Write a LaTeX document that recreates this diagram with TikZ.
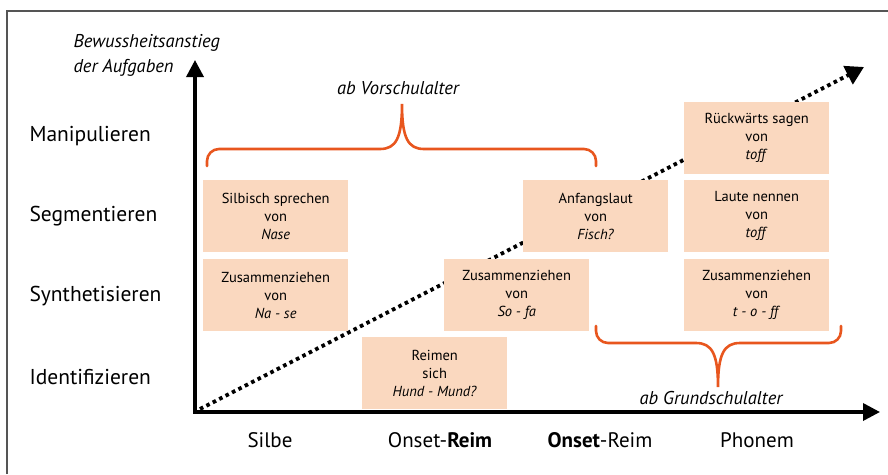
\documentclass[tikz,border=0pt]{standalone}
\usepackage{fontspec}
\setmainfont{PT Sans}
\usetikzlibrary{arrows.meta}
\definecolor{boxfill}{HTML}{FAD8BF}
\definecolor{brace}{HTML}{E8561E}
\definecolor{frame}{HTML}{555555}
\tikzset{
  box/.style={fill=boxfill, minimum width=145pt, minimum height=72pt, inner sep=0pt, align=center, font=\fontsize{14.5}{18}\selectfont, anchor=north west},
  rowlab/.style={anchor=west, font=\fontsize{21.5}{24}\selectfont},
  collab/.style={font=\fontsize{21}{24}\selectfont},
  bracelab/.style={font=\fontsize{18.5}{20}\selectfont\itshape},
  axis/.style={line width=3.5pt, {Triangle[length=17pt,width=17pt]}-{Triangle[length=17pt,width=17pt]}},
  bracepath/.style={draw=brace, line width=2.6pt, line cap=round},
}
\begin{document}
\begin{tikzpicture}[x=1pt,y=-1pt]
\useasboundingbox (0,0) rectangle (888,474);
% frame
\coordinate (fa) at (7,474);
\coordinate (fb) at (7,11);
\coordinate (fc) at (888,11);
\draw[frame, line width=1.5pt] (fa) -- (fb) -- (fc);
% dotted diagonal
\coordinate (d0) at (200,409);
\coordinate (d1) at (864,67);
\draw[line width=3.8pt, dash pattern=on 3.6pt off 3.6pt, -{Triangle[length=18pt,width=20pt]}] (d0) -- (d1);
% boxes
\node[box] (b1) at (203,180) {Silbisch sprechen\\von\\\textit{Nase}};
\node[box] (b2) at (203,259) {Zusammenziehen\\von\\\textit{Na - se}};
\node[box] (b3) at (362,337) {Reimen\\sich\\\textit{Hund - Mund?}};
\node[box] (b4) at (444,259) {Zusammenziehen\\von\\\textit{So - fa}};
\node[box] (b5) at (523,180) {Anfangslaut\\von\\\textit{Fisch?}};
\node[box] (b6) at (684,102) {Rückwärts sagen\\von\\\textit{toff}};
\node[box] (b7) at (684,180) {Laute nennen\\von\\\textit{toff}};
\node[box] (b8) at (684,259) {Zusammenziehen\\von\\\textit{t - o - ff}};
% axes
\coordinate (ytop) at (195,60);
\coordinate (corner) at (195,412);
\coordinate (xend) at (880,412);
\draw[axis] (ytop) -- (corner) -- (xend);
% braces
\coordinate (t0) at (207,166);
\coordinate (t1) at (596,166);
\coordinate (tm) at (402,104);
\draw[bracepath] (t0) -- (207,161) to[out=90,in=180] (219,149) -- (380,149)
  .. controls (396,149) and (402,138) .. (tm)
  .. controls (402,138) and (408,149) .. (424,149) -- (584,149) to[out=0,in=90] (596,161) -- (t1);
\coordinate (g0) at (596,326);
\coordinate (g1) at (841,326);
\coordinate (gm) at (718,387);
\draw[bracepath] (g0) -- (596,331) to[out=-90,in=180] (608,343) -- (696,343)
  .. controls (712,343) and (718,354) .. (gm)
  .. controls (718,354) and (724,343) .. (740,343) -- (829,343) to[out=0,in=-90] (841,331) -- (g1);
\node[bracelab] (lv) at (398,88) {ab Vorschulalter};
\node[bracelab] (lg) at (711,398) {ab Grundschulalter};
% axis label
\node[bracelab, anchor=west] (ylab1) at (70,43) {Bewussheitsanstieg};
\node[bracelab, anchor=west] (ylab2) at (70,68) {der Aufgaben};
% row labels
\node[rowlab] (r1) at (26,136) {Manipulieren};
\node[rowlab] (r2) at (26,216) {Segmentieren};
\node[rowlab] (r3) at (26,296) {Synthetisieren};
\node[rowlab] (r4) at (26,377) {Identifizieren};
% column labels
\node[collab] (c1) at (270,440) {Silbe};
\node[collab] (c2) at (440,440) {Onset-\textbf{Reim}};
\node[collab] (c3) at (600,440) {\textbf{Onset}-Reim};
\node[collab] (c4) at (757,440) {Phonem};
\end{tikzpicture}
\end{document}
